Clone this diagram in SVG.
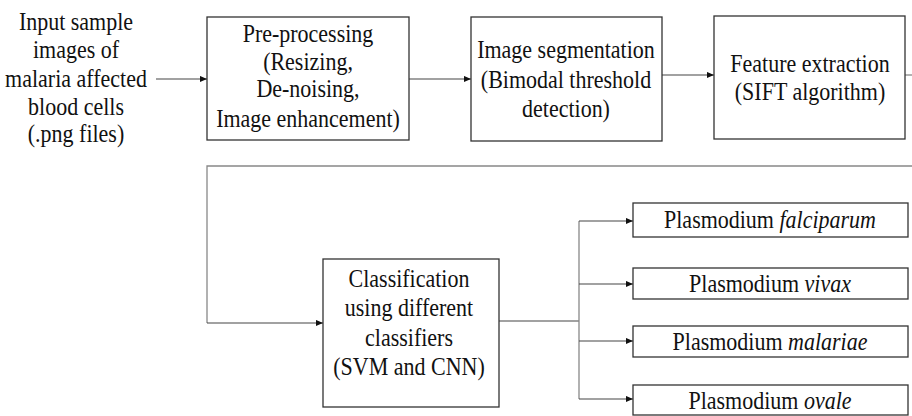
<svg xmlns="http://www.w3.org/2000/svg" width="912" height="416" viewBox="0 0 912 416">
<defs>
<marker id="ah" viewBox="0 0 8 8" refX="8" refY="4" markerWidth="7" markerHeight="7" markerUnits="userSpaceOnUse" orient="auto">
<path d="M0,0.5 L8,4 L0,7.5 Z" fill="#111"/>
</marker>
<style>
.box{fill:#fff;stroke:#333;stroke-width:1.3}
.t{font-family:"Liberation Serif","Times New Roman",serif;font-size:25px;fill:#111;text-anchor:middle}
.c{fill:none;stroke:#444;stroke-width:1.1}
.g{fill:none;stroke:#888;stroke-width:1.3}
</style>
</defs>
<rect width="912" height="416" fill="#fff"/>
<g id="connectors">
<path class="c" d="M156,79 H207" marker-end="url(#ah)"/>
<path class="c" d="M409,79 H471" marker-end="url(#ah)"/>
<path class="c" d="M662,75 H714" marker-end="url(#ah)"/>
<path class="g" d="M905,75 H912"/>
<path class="g" d="M912,166 H207 V323"/>
<path class="c" d="M207,323 H323" marker-end="url(#ah)"/>
<path class="c" d="M499,321 H579"/>
<path class="g" d="M579,221 V399"/>
<path class="c" d="M579,221 H633" marker-end="url(#ah)"/>
<path class="c" d="M579,284 H633" marker-end="url(#ah)"/>
<path class="c" d="M579,341 H633" marker-end="url(#ah)"/>
<path class="c" d="M579,399 H633" marker-end="url(#ah)"/>
</g>
<g id="input">
<text class="t" transform="translate(76,30) scale(0.88,1)">Input sample</text>
<text class="t" transform="translate(76,58) scale(0.88,1)">images of</text>
<text class="t" transform="translate(76,87) scale(0.88,1)">malaria affected</text>
<text class="t" transform="translate(76,115) scale(0.88,1)">blood cells</text>
<text class="t" transform="translate(76,142) scale(0.88,1)">(.png files)</text>
</g>
<g id="preprocessing">
<rect class="box" x="207" y="17" width="202" height="123"/>
<text class="t" transform="translate(308,42) scale(0.88,1)">Pre-processing</text>
<text class="t" transform="translate(308,70) scale(0.88,1)">(Resizing,</text>
<text class="t" transform="translate(308,97) scale(0.88,1)">De-noising,</text>
<text class="t" transform="translate(308,127) scale(0.88,1)">Image enhancement)</text>
</g>
<g id="segmentation">
<rect class="box" x="471" y="17" width="191" height="124"/>
<text class="t" transform="translate(566,58) scale(0.88,1)">Image segmentation</text>
<text class="t" transform="translate(566,88) scale(0.88,1)">(Bimodal threshold</text>
<text class="t" transform="translate(566,117) scale(0.88,1)">detection)</text>
</g>
<g id="feature">
<rect class="box" x="714" y="16" width="191" height="123"/>
<text class="t" transform="translate(810,72) scale(0.88,1)">Feature extraction</text>
<text class="t" transform="translate(810,100) scale(0.88,1)">(SIFT algorithm)</text>
</g>
<g id="classification">
<rect class="box" x="323" y="259" width="176" height="148"/>
<text class="t" transform="translate(409,287) scale(0.88,1)">Classification</text>
<text class="t" transform="translate(409,316) scale(0.88,1)">using different</text>
<text class="t" transform="translate(409,346) scale(0.88,1)">classifiers</text>
<text class="t" transform="translate(409,375) scale(0.88,1)">(SVM and CNN)</text>
</g>
<g id="falciparum">
<rect class="box" x="633" y="203" width="275" height="34"/>
<text class="t" transform="translate(770,228) scale(0.88,1)">Plasmodium <tspan font-style="italic">falciparum</tspan></text>
</g>
<g id="vivax">
<rect class="box" x="633" y="268" width="275" height="31"/>
<text class="t" transform="translate(770,292) scale(0.88,1)">Plasmodium <tspan font-style="italic">vivax</tspan></text>
</g>
<g id="malariae">
<rect class="box" x="633" y="326" width="275" height="31"/>
<text class="t" transform="translate(770,350) scale(0.88,1)">Plasmodium <tspan font-style="italic">malariae</tspan></text>
</g>
<g id="ovale">
<rect class="box" x="633" y="385" width="275" height="30"/>
<text class="t" transform="translate(770,409) scale(0.88,1)">Plasmodium <tspan font-style="italic">ovale</tspan></text>
</g>
</svg>
